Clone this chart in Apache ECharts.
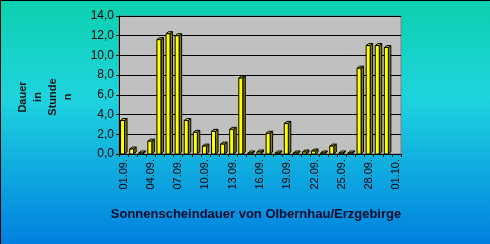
<!DOCTYPE html>
<html>
<head>
<meta charset="utf-8">
<script src="https://cdn.jsdelivr.net/npm/echarts@6/dist/echarts.min.js"></script>
<style>
html,body{margin:0;padding:0;background:#fff;}
#c{width:490px;height:244px;}
</style>
</head>
<body>
<div id="c"></div>
<script>
const categories = ['01.09.','02.09.','03.09.','04.09.','05.09.','06.09.','07.09.','08.09.','09.09.','10.09.',
  '11.09.','12.09.','13.09.','14.09.','15.09.','16.09.','17.09.','18.09.','19.09.','20.09.',
  '21.09.','22.09.','23.09.','24.09.','25.09.','26.09.','27.09.','28.09.','29.09.','30.09.','01.10.'];
const sunHours = [3.4,0.5,0.1,1.3,11.6,12.2,12.0,3.4,2.2,0.8,
  2.3,1.0,2.5,7.7,0.1,0.2,2.1,0.1,3.1,0.1,
  0.2,0.3,0.1,0.8,0.1,0.1,8.7,11.0,11.0,10.8];
const yTitle = 'Dauer\nin\nStunde\nn';
const xTitle = 'Sonnenscheindauer von Olbernhau/Erzgebirge';

const chart = echarts.init(document.getElementById('c'), null, {renderer:'canvas'});
const font = '"Liberation Sans", Arial, sans-serif';

chart.setOption({
  animation:false,
  backgroundColor:{type:'linear',x:0,y:0,x2:0,y2:1,colorStops:[
    {offset:0,color:'#0cd0ae'},{offset:0.4,color:'#1ed4de'},{offset:1,color:'#0080e0'}]},
  grid:{left:119,right:89,top:16,bottom:90,show:true,backgroundColor:'#c0c0c0',borderColor:'#808080',borderWidth:1},
  xAxis:{type:'category',data:categories,boundaryGap:true,
    axisLine:{lineStyle:{color:'#000',width:1}},
    axisTick:{show:true,interval:0,length:3,lineStyle:{color:'#000'}},
    axisLabel:{interval:2,rotate:90,color:'#000',fontFamily:font,fontSize:11,margin:5}},
  yAxis:{type:'value',min:0,max:14,interval:2,
    axisLine:{show:true,lineStyle:{color:'#000'}},
    axisTick:{show:true,length:3,lineStyle:{color:'#000'}},
    splitLine:{lineStyle:{color:'#000',width:1}},
    axisLabel:{color:'#000',fontFamily:font,fontSize:12,margin:5,
      formatter:v=>v.toFixed(1).replace('.',',')}},
  graphic:[
    {type:'text',x:45,y:97,rotation:Math.PI/2,
      style:{text:yTitle,fill:'#111',font:'bold 11px '+font,align:'center',verticalAlign:'middle',lineHeight:15}},
    {type:'text',x:256,y:214,
      style:{text:xTitle,fill:'#0a0a2a',font:'bold 13px '+font,align:'center',verticalAlign:'middle'}},
    {type:'rect',shape:{x:0,y:0,width:490,height:1},style:{fill:'#000'}},
    {type:'rect',shape:{x:0,y:0,width:1,height:244},style:{fill:'#000'}}
  ],
  series:[{
    type:'custom',
    data:sunHours.map((v,i)=>[i,v]),
    renderItem:function(params,api){
      const x=api.value(0), v=api.value(1);
      const base=api.coord([x,0]), top=api.coord([x,v]);
      const cx=base[0];
      const l=cx-3, r=cx+1, dx=2.5, dy=2;
      const tY=Math.min(top[1],base[1]-0.5), bY=base[1];
      return {type:'group',children:[
        {type:'polygon',shape:{points:[[r,tY],[r+dx,tY-dy],[r+dx,bY-dy],[r,bY]]},
          style:{fill:'#808000',stroke:'#000',lineWidth:1}},
        {type:'polygon',shape:{points:[[l,tY],[l+dx,tY-dy],[r+dx,tY-dy],[r,tY]]},
          style:{fill:'#c8c800',stroke:'#000',lineWidth:1}},
        {type:'rect',shape:{x:l,y:tY,width:r-l,height:bY-tY},
          style:{fill:'#ffff00',stroke:'#000',lineWidth:1}}
      ]};
    }
  }]
});
</script>
</body>
</html>
